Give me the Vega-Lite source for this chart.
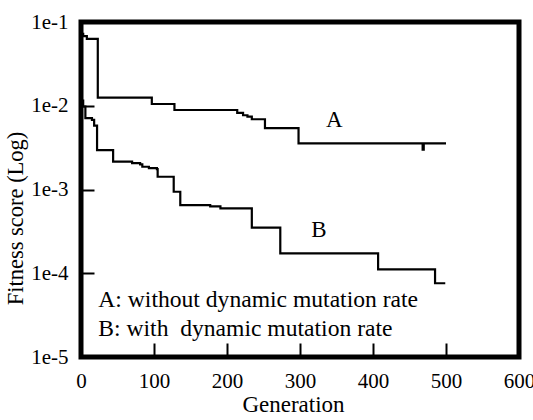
{
  "$schema": "https://vega.github.io/schema/vega-lite/v6.json",
  "width": 438,
  "height": 335,
  "autosize": {"type": "none"},
  "padding": {"left": 81, "top": 22, "right": 14, "bottom": 63},
  "background": "white",
  "config": {
    "view": {"stroke": "black", "strokeWidth": 5},
    "font": "Liberation Serif",
    "axis": {
      "domain": false,
      "grid": false,
      "ticks": true,
      "tickColor": "black",
      "tickWidth": 2,
      "labelColor": "black",
      "labelFont": "Liberation Serif",
      "labelFontSize": 21,
      "labelFlush": false,
      "labelOverlap": false,
      "titleColor": "black",
      "titleFont": "Liberation Serif",
      "titleFontSize": 23,
      "titleFontWeight": "normal",
      "zindex": 1
    }
  },
  "datasets": {
    "runs": [
      {"gen": 0, "fitness": 0.072, "run": "A"},
      {"gen": 3, "fitness": 0.068, "run": "A"},
      {"gen": 8, "fitness": 0.063, "run": "A"},
      {"gen": 23, "fitness": 0.0125, "run": "A"},
      {"gen": 97, "fitness": 0.0105, "run": "A"},
      {"gen": 128, "fitness": 0.0089, "run": "A"},
      {"gen": 214, "fitness": 0.0082, "run": "A"},
      {"gen": 222, "fitness": 0.0077, "run": "A"},
      {"gen": 228, "fitness": 0.0074, "run": "A"},
      {"gen": 234, "fitness": 0.0069, "run": "A"},
      {"gen": 252, "fitness": 0.0054, "run": "A"},
      {"gen": 298, "fitness": 0.00356, "run": "A"},
      {"gen": 468, "fitness": 0.003, "run": "A"},
      {"gen": 469.5, "fitness": 0.00356, "run": "A"},
      {"gen": 500, "fitness": 0.00356, "run": "A"},
      {"gen": 0, "fitness": 0.0115, "run": "B"},
      {"gen": 3, "fitness": 0.0098, "run": "B"},
      {"gen": 6, "fitness": 0.0071, "run": "B"},
      {"gen": 15, "fitness": 0.0068, "run": "B"},
      {"gen": 18, "fitness": 0.0058, "run": "B"},
      {"gen": 22, "fitness": 0.00296, "run": "B"},
      {"gen": 44, "fitness": 0.00215, "run": "B"},
      {"gen": 70, "fitness": 0.00206, "run": "B"},
      {"gen": 81, "fitness": 0.002, "run": "B"},
      {"gen": 84, "fitness": 0.00187, "run": "B"},
      {"gen": 93, "fitness": 0.0018, "run": "B"},
      {"gen": 104, "fitness": 0.00175, "run": "B"},
      {"gen": 105, "fitness": 0.00142, "run": "B"},
      {"gen": 127, "fitness": 0.00094, "run": "B"},
      {"gen": 136, "fitness": 0.00065, "run": "B"},
      {"gen": 177, "fitness": 0.00063, "run": "B"},
      {"gen": 191, "fitness": 0.000596, "run": "B"},
      {"gen": 234, "fitness": 0.00035, "run": "B"},
      {"gen": 273, "fitness": 0.000173, "run": "B"},
      {"gen": 407, "fitness": 0.000111, "run": "B"},
      {"gen": 485, "fitness": 0.000076, "run": "B"},
      {"gen": 499, "fitness": 0.000076, "run": "B"}
    ],
    "curveLabels": [
      {"gen": 347, "fitness": 0.00557, "text": "A"},
      {"gen": 326, "fitness": 0.000269, "text": "B"}
    ],
    "key": [
      {"gen": 23.7, "fitness": 0.0000394, "text": "A: without dynamic mutation rate"},
      {"gen": 23.7, "fitness": 0.0000178, "text": "B: with\u00a0 dynamic mutation rate"}
    ]
  },
  "layer": [
    {
      "data": {"name": "runs"},
      "mark": {"type": "line", "interpolate": "step-after", "color": "black", "strokeWidth": 2.2},
      "encoding": {
        "x": {
          "field": "gen",
          "type": "quantitative",
          "scale": {"domain": [0, 600], "nice": false, "zero": false},
          "axis": {
            "values": [0, 100, 200, 300, 400, 500, 600],
            "tickSize": -14,
            "labelPadding": 27,
            "title": "Generation",
            "titleX": 212,
            "titleY": 54,
            "titleAlign": "center",
            "titleBaseline": "alphabetic"
          }
        },
        "y": {
          "field": "fitness",
          "type": "quantitative",
          "scale": {"type": "log", "domain": [0.00001, 0.1], "nice": false},
          "axis": {
            "values": [0.00001, 0.0001, 0.001, 0.01, 0.1],
            "labelExpr": "'1e-' + round(-log(datum.value) / LN10)",
            "tickSize": -13,
            "labelPadding": 26,
            "title": "Fitness score (Log)",
            "titleFontSize": 22.5,
            "titleX": -66,
            "titleY": 196,
            "titleAlign": "center",
            "titleBaseline": "middle"
          }
        },
        "detail": {"field": "run", "type": "nominal"}
      }
    },
    {
      "data": {"name": "curveLabels"},
      "mark": {"type": "text", "font": "Liberation Serif", "fontSize": 23, "color": "black", "align": "center", "baseline": "alphabetic"},
      "encoding": {
        "x": {"field": "gen", "type": "quantitative"},
        "y": {"field": "fitness", "type": "quantitative"},
        "text": {"field": "text"}
      }
    },
    {
      "data": {"name": "key"},
      "mark": {"type": "text", "font": "Liberation Serif", "fontSize": 23.6, "color": "black", "align": "left", "baseline": "alphabetic"},
      "encoding": {
        "x": {"field": "gen", "type": "quantitative"},
        "y": {"field": "fitness", "type": "quantitative"},
        "text": {"field": "text"}
      }
    }
  ]
}
